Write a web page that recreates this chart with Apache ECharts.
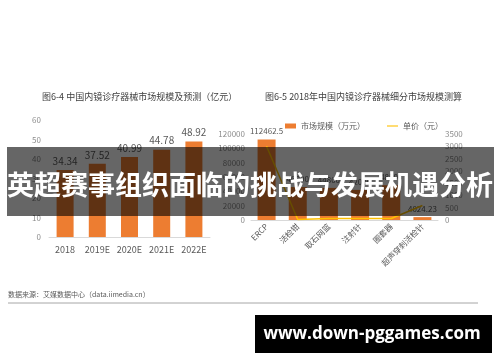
<!DOCTYPE html>
<html>
<head>
<meta charset="utf-8">
<script src="https://cdn.jsdelivr.net/npm/echarts@6/dist/echarts.min.js"></script>
<style>html,body{margin:0;padding:0;background:#fff}#c{width:500px;height:362px}</style>
</head>
<body>
<div id="c"></div>
<script>
// Left chart data
var leftTitle = '图6-4 中国内镜诊疗器械市场规模及预测（亿元）';
var leftCategories = ['2018', '2019E', '2020E', '2021E', '2022E'];
var leftValues = [34.34, 37.52, 40.99, 44.78, 48.92];

// Right chart data
var rightTitle = '图6-5 2018年中国内镜诊疗器械细分市场规模测算';
var rightCategories = ['ERCP', '活检钳', '取石网篮', '注射针', '圈套器', '超声穿刺活检针'];
var marketSize = [112462.5, 46000, 44800, 42000, 48500, 4024.23];
var unitPrice = [2999, 19.55, 65.33, 59.04, 58.93, 587.55];
var seriesNames = ['市场规模（万元）', '单价（元）'];

var footnote = '数据来源：艾媒数据中心（data.iimedia.cn）';
var bannerText = '英超赛事组织面临的挑战与发展机遇分析';
var siteText = 'www.down-pggames.com';

var FONT = '"Noto Sans CJK SC", "Noto Sans", sans-serif';
var ORANGE = '#ED7D31';
var YELLOW = '#FFC000';
var GREY = '#595959';

var chart = echarts.init(document.getElementById('c'), null, {renderer: 'canvas'});

var priceData = unitPrice.map(function (v, i) {
  if (i === 0) return {value: v, label: {position: 'bottom', distance: 57}};
  return {value: v};
});
var plain = function (v) { return String(v); };

chart.setOption({
  animation: false,
  textStyle: {fontFamily: FONT},
  title: [
    {text: leftTitle, left: 37, top: 87, textStyle: {fontSize: 9, fontWeight: 'normal', color: '#404040', fontFamily: FONT}},
    {text: rightTitle, left: 260, top: 87, textStyle: {fontSize: 9, fontWeight: 'normal', color: '#404040', fontFamily: FONT}}
  ],
  legend: {
    left: 280, top: 117, itemWidth: 11, itemHeight: 5, itemGap: 22,
    textStyle: {fontSize: 8, color: GREY, fontFamily: FONT},
    data: [
      {name: seriesNames[0], icon: 'rect'},
      {name: seriesNames[1], icon: 'path://M0,0 L20,0 L20,2 L0,2 Z'}
    ]
  },
  grid: [
    {left: 49, right: 290, top: 120, bottom: 125},
    {left: 251, right: 62, top: 134, bottom: 142}
  ],
  xAxis: [
    {type: 'category', gridIndex: 0, data: leftCategories,
      axisLine: {lineStyle: {color: '#d9d9d9'}}, axisTick: {show: false},
      axisLabel: {fontSize: 9, color: GREY, margin: 8, interval: 0}},
    {type: 'category', gridIndex: 1, data: rightCategories,
      axisLine: {lineStyle: {color: '#d9d9d9'}}, axisTick: {show: false},
      axisLabel: {fontSize: 8, color: GREY, rotate: 45, margin: 5, interval: 0}}
  ],
  yAxis: [
    {type: 'value', gridIndex: 0, min: 0, max: 60, interval: 10,
      axisLine: {show: false}, axisTick: {show: false}, splitLine: {show: false},
      axisLabel: {fontSize: 8, color: '#8c8c8c', margin: 8, formatter: plain}},
    {type: 'value', gridIndex: 1, min: 0, max: 120000, interval: 20000,
      axisLine: {show: false}, axisTick: {show: false}, splitLine: {show: false},
      axisLabel: {fontSize: 8, color: '#8c8c8c', margin: 6, formatter: plain}},
    {type: 'value', gridIndex: 1, position: 'right', min: 0, max: 3500, interval: 500,
      axisLine: {show: false}, axisTick: {show: false}, splitLine: {show: false},
      axisLabel: {fontSize: 8, color: '#8c8c8c', margin: 7, formatter: plain}}
  ],
  series: [
    {type: 'bar', xAxisIndex: 0, yAxisIndex: 0, data: leftValues, barWidth: 17,
      itemStyle: {color: ORANGE},
      label: {show: true, position: 'top', fontSize: 10, color: GREY, distance: 4}},
    {type: 'bar', name: seriesNames[0], xAxisIndex: 1, yAxisIndex: 1, data: marketSize, barWidth: 18,
      itemStyle: {color: ORANGE},
      label: {show: true, position: 'top', fontSize: 8, color: GREY, distance: 4}},
    {type: 'line', name: seriesNames[1], xAxisIndex: 1, yAxisIndex: 2, data: priceData,
      showSymbol: false, symbol: 'none', lineStyle: {color: YELLOW, width: 1.5}, itemStyle: {color: YELLOW},
      label: {show: true, position: 'top', fontSize: 8, color: GREY, distance: 5}}
  ],
  graphic: [
    {type: 'text', left: 8, top: 291, z: 100,
      style: {text: footnote, fontSize: 7, fill: GREY, fontFamily: FONT}},
    {type: 'line', z: 100, shape: {x1: 8, y1: 303, x2: 478, y2: 303},
      style: {stroke: '#a6a6a6', lineWidth: 1}},
    {type: 'rect', z: 100, shape: {x: 7, y: 147, width: 487, height: 69},
      style: {fill: 'rgba(0,0,0,0.6)'}},
    {type: 'text', z: 101, x: 250, y: 185,
      style: {text: bannerText, fontSize: 27, fontWeight: 'bold', fill: '#fff',
        fontFamily: FONT, textAlign: 'center', textVerticalAlign: 'middle'}},
    {type: 'rect', z: 100, shape: {x: 255, y: 315, width: 237, height: 38},
      style: {fill: '#000'}},
    {type: 'text', z: 101, x: 372, y: 334,
      style: {text: siteText, fontSize: 17, fontWeight: 'bold', fill: '#fff',
        fontFamily: '"Open Sans", sans-serif', textAlign: 'center', textVerticalAlign: 'middle'}}
  ]
});
</script>
</body>
</html>
